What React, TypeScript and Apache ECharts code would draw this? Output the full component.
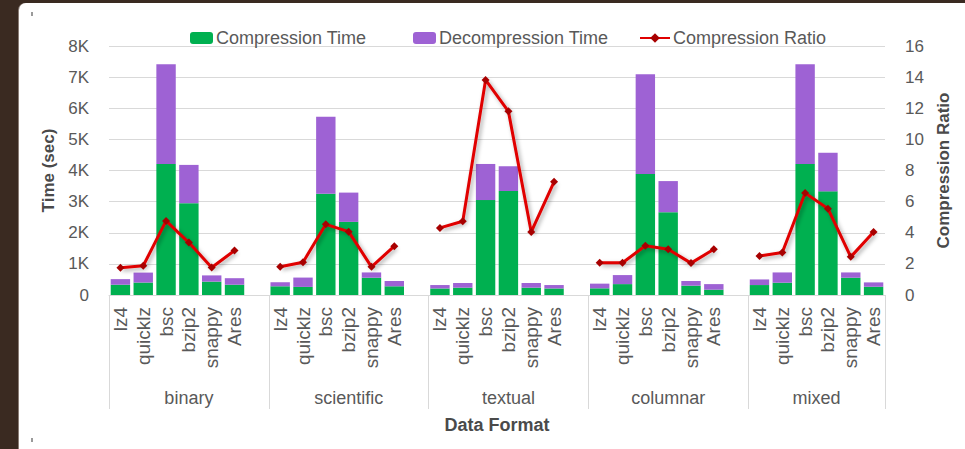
import React, { useEffect, useRef } from 'react';
import * as echarts from 'echarts';

const methods = ['lz4', 'quicklz', 'bsc', 'bzip2', 'snappy', 'Ares'];
const formats = ['binary', 'scientific', 'textual', 'columnar', 'mixed'];

// seconds, per format (binary, scientific, textual, columnar, mixed), per method
const compressionTime = [
  330, 400, 4210, 2950, 430, 330,
  280, 260, 3250, 2350, 555, 280,
  210, 235, 3050, 3340, 235, 210,
  215, 350, 3890, 2660, 300, 170,
  320, 395, 4210, 3330, 555, 265,
];
const decompressionTime = [
  180, 320, 3200, 1230, 200, 210,
  130, 300, 2480, 940, 170, 170,
  110, 150, 1160, 800, 150, 110,
  150, 290, 3200, 1000, 150, 180,
  180, 330, 3200, 1240, 170, 140,
];
const compressionRatio = [
  1.75, 1.88, 4.76, 3.37, 1.77, 2.86,
  1.81, 2.11, 4.54, 4.07, 1.81, 3.14,
  4.31, 4.74, 13.82, 11.8, 4.05, 7.27,
  2.07, 2.07, 3.16, 2.94, 2.05, 2.94,
  2.5, 2.73, 6.55, 5.55, 2.45, 4.05,
];
const timeTicks = ['0', '1K', '2K', '3K', '4K', '5K', '6K', '7K', '8K'];

const FONT = "'Liberation Sans', Arial, sans-serif";
const TXT = '#595959';
const GRID = '#d9d9d9';

function spread<T>(values: T[], blank: any): any[] {
  const out: any[] = [];
  formats.forEach((_, g) => {
    for (let i = 0; i < methods.length; i++) out.push(values[g * methods.length + i]);
    if (g < formats.length - 1) out.push(blank);
  });
  return out;
}

const categories = spread(formats.flatMap(() => methods), '');
const groupStarts: number[] = [];
const groupCenters: number[] = [];
{
  let pos = 0;
  formats.forEach((_, g) => {
    const size = methods.length + (g < formats.length - 1 ? 1 : 0);
    groupStarts.push(pos);
    groupCenters.push(pos + size / 2);
    pos += size;
  });
}
const totalSlots = categories.length;

export default function App() {
  const ref = useRef<HTMLDivElement>(null);
  useEffect(() => {
    if (!ref.current) return;
    const chart = echarts.init(ref.current, null, { renderer: 'svg' });
    const legendBase = {
      top: 24,
      itemWidth: 23,
      itemHeight: 12,
      textStyle: { fontFamily: FONT, fontSize: 18, color: TXT, padding: [0, 0, 0, -2] },
      selectedMode: false,
    };
    chart.setOption({
      animation: false,
      backgroundColor: 'transparent',
      textStyle: { fontFamily: FONT },
      legend: [
        { ...legendBase, left: 185, data: ['Compression Time'] },
        { ...legendBase, left: 408, data: ['Decompression Time'] },
        { ...legendBase, left: 634, itemWidth: 30, data: ['Compression Ratio'] },
      ],
      grid: { left: 109, right: 80, top: 46, bottom: 154, containLabel: false },
      xAxis: [
        {
          type: 'category',
          data: categories,
          axisLine: { show: true, lineStyle: { color: GRID, width: 1 } },
          axisTick: {
            show: true,
            length: 114,
            interval: (idx: number) => groupStarts.includes(idx),
            lineStyle: { color: GRID, width: 1 },
          },
          axisLabel: {
            interval: 0,
            rotate: 90,
            margin: 12,
            fontSize: 19,
            color: TXT,
            fontFamily: FONT,
          },
          splitLine: { show: false },
        },
        {
          type: 'value',
          position: 'bottom',
          min: 0,
          max: totalSlots,
          interval: 0.5,
          axisLine: { show: false },
          axisTick: { show: false },
          splitLine: { show: false },
          axisLabel: {
            margin: 94,
            fontSize: 18,
            color: TXT,
            fontFamily: FONT,
            formatter: (v: number) => {
              const k = groupCenters.findIndex((c) => Math.abs(c - v) < 0.01);
              return k >= 0 ? formats[k] : '';
            },
          },
          name: 'Data Format',
          nameLocation: 'middle',
          nameGap: 121,
          nameTextStyle: { fontSize: 18, fontWeight: 'bold', color: '#4a4a4a', fontFamily: FONT },
        },
      ],
      yAxis: [
        {
          type: 'value',
          min: 0,
          max: 8000,
          interval: 1000,
          axisLine: { show: false },
          axisTick: { show: false },
          splitLine: { lineStyle: { color: GRID, width: 1 } },
          axisLabel: {
            margin: 20,
            fontSize: 17,
            color: TXT,
            fontFamily: FONT,
            formatter: (v: number) => timeTicks[Math.round(v / 1000)],
          },
          name: 'Time (sec)',
          nameLocation: 'middle',
          nameRotate: 90,
          nameGap: 50,
          nameTextStyle: { fontSize: 17, fontWeight: 'bold', color: '#4a4a4a', fontFamily: FONT },
        },
        {
          type: 'value',
          min: 0,
          max: 16,
          interval: 2,
          position: 'right',
          axisLine: { show: false },
          axisTick: { show: false },
          splitLine: { show: false },
          axisLabel: { margin: 20, fontSize: 17, color: TXT, fontFamily: FONT },
          name: 'Compression Ratio',
          nameLocation: 'middle',
          nameRotate: 90,
          nameGap: 48,
          nameTextStyle: { fontSize: 17, fontWeight: 'bold', color: '#4a4a4a', fontFamily: FONT },
        },
      ],
      series: [
        {
          name: 'Compression Time',
          type: 'bar',
          stack: 'time',
          barCategoryGap: '15%',
          itemStyle: { color: '#00B050' },
          data: spread(compressionTime, '-'),
        },
        {
          name: 'Decompression Time',
          type: 'bar',
          stack: 'time',
          barCategoryGap: '15%',
          itemStyle: { color: '#9E62D4' },
          data: spread(decompressionTime, '-'),
        },
        {
          name: 'Compression Ratio',
          type: 'line',
          yAxisIndex: 1,
          symbol: 'diamond',
          symbolSize: 8,
          connectNulls: false,
          lineStyle: {
            color: '#E00000',
            width: 3,
            shadowColor: 'rgba(0,0,0,0.35)',
            shadowBlur: 4,
            shadowOffsetX: 2,
            shadowOffsetY: 2,
          },
          itemStyle: { color: '#A80000' },
          data: spread(compressionRatio, '-'),
          z: 5,
        },
      ],
    });
    return () => chart.dispose();
  }, []);

  return (
    <div style={{ position: 'fixed', left: 0, top: 0, width: 965, height: 449, background: '#3a2a21', overflow: 'hidden' }}>
      <div style={{ position: 'absolute', left: 19, top: 3, width: 960, height: 460, background: '#ffffff', borderTopLeftRadius: 7, boxShadow: '-1px 0 0 #8a7d76' }} />
      <div style={{ position: 'absolute', left: 31, top: 12, width: 2, height: 4, background: '#9a9a9a' }} />
      <div style={{ position: 'absolute', left: 31, top: 438, width: 2, height: 4, background: '#9a9a9a' }} />
      <div ref={ref} style={{ position: 'absolute', left: 0, top: 0, width: 965, height: 449 }} />
    </div>
  );
}
